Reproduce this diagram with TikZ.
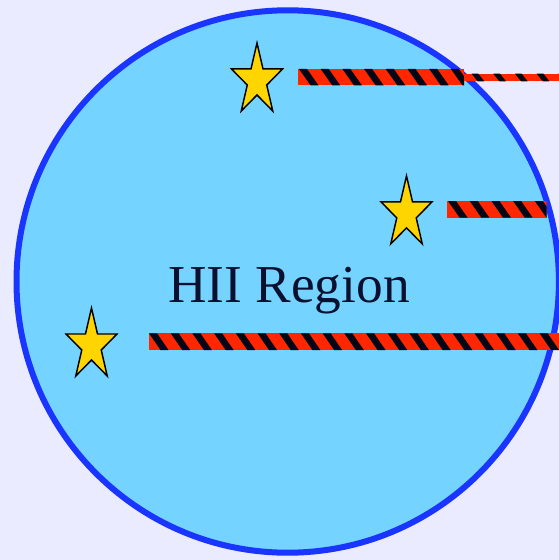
\documentclass[tikz,border=0pt]{standalone}
\usepackage{fontspec}
\setmainfont{Liberation Serif}
\definecolor{bgcol}{HTML}{EBEBFF}
\definecolor{hiifill}{HTML}{75D4FF}
\definecolor{rimblue}{HTML}{1A35FF}
\definecolor{barred}{HTML}{FF2600}
\definecolor{stripecol}{HTML}{050515}
\definecolor{starfill}{HTML}{FFD500}
\definecolor{textcol}{HTML}{0A1030}
% #1 x1, #2 y1, #3 x2, #4 y2, #5 first stripe x, #6 black width, #7 slant dx
\newcommand\hatchbar[7]{%
  \begin{scope}
    \clip (#1,#2) rectangle (#3,#4);
    \fill[barred] (#1,#2) rectangle (#3,#4);
    \foreach \n in {-2,...,22}{
      \pgfmathsetmacro\xa{#5+\n*21.7}
      \fill[stripecol] (\xa,#2) -- ++(#6,0) -- ++(#7,#4-#2) -- ++(-#6,0) -- cycle;
    }
  \end{scope}}
\tikzset{
  starsty/.style={fill=starfill, draw=black, line width=1.1pt, line join=miter},
  hstar/.pic={
    \draw[starsty] (0,-1) \foreach \k in {1,...,9}{
      -- ({cos(90+36*\k)*(1-0.618*mod(\k,2))},{-sin(90+36*\k)*(1-0.618*mod(\k,2))})
    } -- cycle;
  },
  rim/.style={fill=hiifill, draw=rimblue, line width=4.5pt},
  lbl/.style={font=\fontsize{40}{40}\selectfont, text=textcol, inner sep=0pt, anchor=base west}
}
\begin{document}
\begin{tikzpicture}[x=0.75pt,y=-0.75pt]
  \useasboundingbox (0,0) rectangle (559,560);
  \fill[bgcol] (0,0) rectangle (559,560);
  \draw[rim] (287.7,281.5) circle[radius=271.2];
  \node[lbl] (label) at (168,302) {HII Region};
  % bars
  \hatchbar{298}{69}{464}{85.3}{299}{8}{11.5}
  \hatchbar{464}{73.7}{560}{81.3}{471.6}{6.7}{6}
  \hatchbar{447}{201}{546.7}{217.5}{448}{8}{11.5}
  \hatchbar{149}{333.3}{560}{350}{149}{8}{11.5}
  % stars
  \pic[xscale=26.8,yscale=37.6] at (257,80.6) {hstar};
  \pic[xscale=26.8,yscale=37.6] at (406.5,213.5) {hstar};
  \pic[xscale=26.8,yscale=37.6] at (91.5,345.6) {hstar};
\end{tikzpicture}
\end{document}
